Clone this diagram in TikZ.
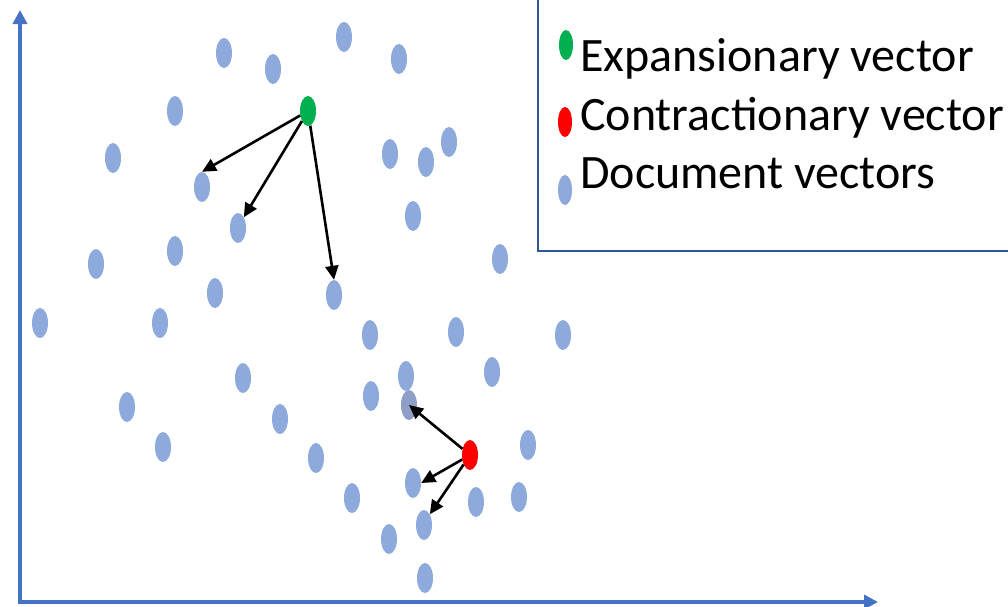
\documentclass[tikz,border=0pt]{standalone}
\usepackage{fontspec}
\setmainfont{Carlito}
\usetikzlibrary{shapes.geometric,arrows.meta}
\definecolor{dotblue}{HTML}{8EA9DB}
\definecolor{dotgrey}{HTML}{8E9EC6}
\definecolor{axisblue}{HTML}{4472C4}
\definecolor{boxblue}{HTML}{2F5597}
\definecolor{expgreen}{HTML}{00B050}
\tikzset{
  doc/.style={ellipse, fill=dotblue, minimum width=16pt, minimum height=30pt, inner sep=0pt},
  expv/.style={doc, fill=expgreen},
  conv/.style={doc, fill=red},
  vec/.style={draw=black, line width=2.6pt, -{Triangle[length=14pt,width=13pt]}},
  axis/.style={draw=axisblue, line width=3.5pt, {Triangle[length=14pt,width=14pt]}-{Triangle[length=14pt,width=14pt]}},
  legtext/.style={anchor=base west, inner sep=0pt, font=\fontsize{48}{56}\selectfont},
  legdot/.style={ellipse, minimum width=14pt, minimum height=30pt, inner sep=0pt}
}
\begin{document}
\begin{tikzpicture}[x=1pt,y=-1pt]
\useasboundingbox (0,0) rectangle (1008,606);
\clip (0,0) rectangle (1008,606);
% axes
\coordinate (ytip) at (20,10);
\coordinate (origin) at (20,602);
\coordinate (xtip) at (878,602);
\draw[axis] (ytip) -- (origin) -- (xtip);
% legend
\node[draw=boxblue, line width=1.8pt, minimum width=500pt, minimum height=280pt, anchor=south west, inner sep=0pt] (legend) at (537,252) {};
\node[legdot, fill=expgreen] (lg) at (566,45) {};
\node[legdot, fill=red] (lr) at (565,122) {};
\node[legdot, fill=dotblue] (lb) at (565,190) {};
\node[legtext] (tg) at (580,71) {Expansionary vector};
\node[legtext] (tr) at (580,130) {Contractionary vector};
\node[legtext] (tb) at (580,188) {Document vectors};
% document vectors
\node[doc] (d1) at (224,53) {};
\node[doc] (d2) at (273,69) {};
\node[doc] (d3) at (344,37) {};
\node[doc] (d4) at (399,59) {};
\node[doc] (d5) at (175,111) {};
\node[doc] (d6) at (113,158) {};
\node[doc] (d7) at (390,154) {};
\node[doc] (d8) at (426,162) {};
\node[doc] (d9) at (449,142) {};
\node[doc] (e1) at (202,187) {};
\node[doc] (e2) at (238,228) {};
\node[doc] (d10) at (413,216) {};
\node[doc] (d11) at (175,251) {};
\node[doc] (d12) at (96,264) {};
\node[doc] (d13) at (500,259) {};
\node[doc] (d14) at (215,293) {};
\node[doc] (e3) at (334,295) {};
\node[doc] (d15) at (40,323) {};
\node[doc] (d16) at (160,323) {};
\node[doc] (d17) at (370,335) {};
\node[doc] (d18) at (456,332) {};
\node[doc] (d19) at (563,335) {};
\node[doc] (d20) at (243,378) {};
\node[doc] (d21) at (406,376) {};
\node[doc] (d22) at (492,372) {};
\node[doc] (d23) at (127,407) {};
\node[doc] (d24) at (371,396) {};
\node[doc, fill=dotgrey] (c1) at (409,405) {};
\node[doc] (d25) at (280,419) {};
\node[doc] (d26) at (163,447) {};
\node[doc] (d27) at (316,458) {};
\node[doc] (d28) at (528,445) {};
\node[doc] (c2) at (413,483) {};
\node[doc] (d29) at (352,498) {};
\node[doc] (d30) at (476,502) {};
\node[doc] (d31) at (519,497) {};
\node[doc] (c3) at (424,525) {};
\node[doc] (d32) at (389,539) {};
\node[doc] (d33) at (425,578) {};
% special vectors
\node[expv] (g) at (308,111) {};
\node[conv] (r) at (470,455) {};
% arrows
\draw[vec] (g) -- (e1.north);
\draw[vec] (g) -- (e2.north east);
\draw[vec] (g) -- (e3.north);
\draw[vec] (r) -- (c1.center);
\draw[vec] (r) -- (c2.east);
\draw[vec] (r) -- (c3.north east);
\end{tikzpicture}
\end{document}
